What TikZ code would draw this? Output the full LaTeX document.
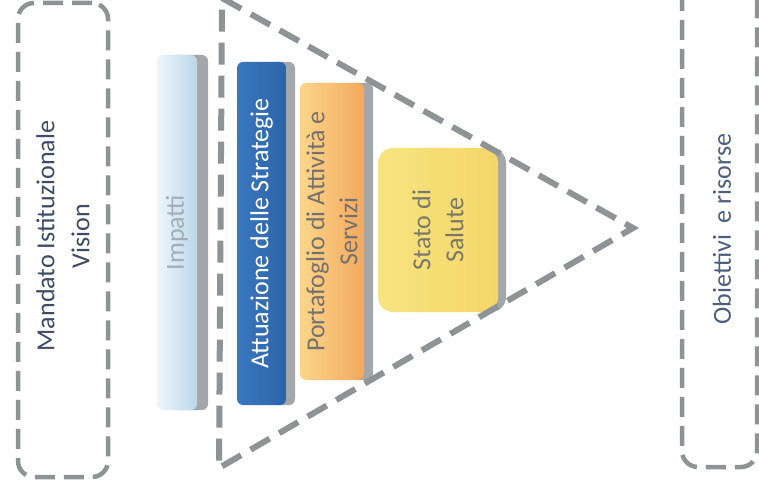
\documentclass[tikz,border=0pt]{standalone}
\usepackage{fontspec}
\setmainfont{Carlito}
\definecolor{dgray}{HTML}{8E9396}
\definecolor{shgray}{HTML}{A3A7AA}
\definecolor{navytxt}{HTML}{3D4B66}
\definecolor{bluetxt}{HTML}{4D5F7D}
\definecolor{imptxt}{HTML}{A3AEB8}
\definecolor{orgtxt}{HTML}{77716B}
\definecolor{yeltxt}{HTML}{7A7868}
\definecolor{impL}{HTML}{EEF6FB}
\definecolor{impR}{HTML}{BCD7E8}
\definecolor{attL}{HTML}{3A77BF}
\definecolor{attR}{HTML}{2C64A8}
\definecolor{porL}{HTML}{FBD68A}
\definecolor{porR}{HTML}{F3A85E}
\definecolor{staL}{HTML}{F8E480}
\definecolor{staR}{HTML}{F3D668}
\begin{document}
\begin{tikzpicture}[x=1pt,y=-1pt,
  dashbox/.style={draw=dgray, line width=4.5pt, dash pattern=on 20pt off 9pt, rounded corners=16pt, inner sep=0pt},
  tri/.style={draw=dgray, line width=6pt, dash pattern=on 22pt off 11pt, line join=miter},
  bartext/.style={rotate=90, font=\fontsize{26}{33}\selectfont, align=center, inner sep=0pt},
  barbody/.style={rotate=90, rounded corners=6pt, inner sep=0pt, font=\fontsize{26}{33}\selectfont, align=center},
  barshadow/.style={rotate=90, rounded corners=6pt, inner sep=0pt, fill=shgray},
]
\useasboundingbox (0,0) rectangle (759,494);
\fill[white] (0,0) rectangle (759,494);

% side boxes
\node[dashbox, minimum width=90pt, minimum height=474pt] (mbox) at (63,240) {};
\node[bartext, text=navytxt, font=\fontsize{26}{35}\selectfont] (mtext) at (63,236) {Mandato Istituzionale\\Vision};
\node[dashbox, minimum width=75pt, minimum height=482pt] (obox) at (719.5,226) {};
\node[bartext, text=bluetxt] (otext) at (722,229) {Obiettivi~~e risorse};

% Impatti
\node[barshadow, minimum width=355pt, minimum height=38pt] (impS) at (189,232.5) {};
\node[barbody, minimum width=355pt, minimum height=40pt, left color=impL, right color=impR, text=imptxt] (imp) at (177,232.5) {Impatti};

% Attuazione
\node[barshadow, minimum width=343pt, minimum height=25pt] (attS) at (282.5,233.5) {};
\node[barbody, minimum width=343pt, minimum height=49pt, left color=attL, right color=attR, text=white] (att) at (261.5,233.5) {Attuazione delle Strategie};

% Portafoglio
\node[barshadow, minimum width=297pt, minimum height=23pt] (porS) at (361.5,231.5) {};
\node[barbody, minimum width=297pt, minimum height=64pt, left color=porL, right color=porR, text=orgtxt] (por) at (332,231.5) {Portafoglio di Attività e\\Servizi};

% Stato di Salute
\node[barshadow, rounded corners=15pt, minimum width=164pt, minimum height=26pt] (staS) at (493,230) {};
\node[barbody, rounded corners=15pt, minimum width=164pt, minimum height=120pt, left color=staL, right color=staR, text=yeltxt] (sta) at (438,230) {Stato di\\Salute};

% triangle
\coordinate (t1) at (222,-2);
\coordinate (apex) at (633,228);
\coordinate (t3) at (219,468);
\draw[tri] (t1) -- (apex) -- (t3) -- cycle;
\end{tikzpicture}
\end{document}
